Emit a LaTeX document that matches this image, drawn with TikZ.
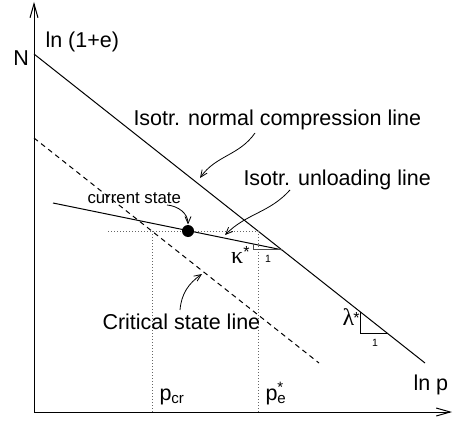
\documentclass[tikz,border=0pt]{standalone}
\usepackage{fontspec}
\setmainfont{Liberation Sans}
\newfontfamily\greekfont{Liberation Serif}
\usetikzlibrary{arrows.meta}

\newcommand{\starmark}[1]{\raisebox{#1}{\fontsize{16}{16}\selectfont *}}

\tikzset{
  lbl/.style={font=\fontsize{21.5}{25}\selectfont, inner sep=0pt},
  greeklbl/.style={font=\fontsize{24}{28}\selectfont, inner sep=0pt},
  smalllbl/.style={font=\fontsize{16.8}{20}\selectfont, inner sep=0pt},
  tinylbl/.style={font=\fontsize{10.5}{12}\selectfont, inner sep=0pt},
  axis/.style={-{Straight Barb[length=14pt,width=8pt]}, line width=1pt},
  pointer/.style={-{Straight Barb[length=7pt,width=6pt]}, line width=0.8pt},
  guide/.style={black!60, line width=1pt, dash pattern=on 1pt off 2pt},
  csl/.style={line width=1pt, dash pattern=on 5pt off 4pt},
  slope/.style={black!70, line width=0.9pt},
}

\begin{document}
\begin{tikzpicture}[x=1pt,y=1pt,line width=1pt]
\useasboundingbox (-34,-9) rectangle (420,412);

% axes
\coordinate (O) at (0,0);
\draw[axis] (O) -- (418,0);
\draw[axis] (O) -- (0,410);
\node[lbl,anchor=base west] (lnp) at (379,22) {ln p};
\node[lbl,anchor=base west] (lne) at (11,364) {ln (1+e)};
\node[lbl,anchor=base west] (Nlbl) at (-21,346) {N};

% lines
\coordinate (N) at (0,358);
\coordinate (nclEnd) at (391,49);
\coordinate (cslStart) at (0,274);
\coordinate (cslEnd) at (285,49);
\coordinate (unlStart) at (19,209);
\coordinate (unlEnd) at (247.8,162.2);
\draw (N) -- (nclEnd);
\draw[csl] (cslStart) -- (cslEnd);
\draw (unlStart) -- (unlEnd);

% current state and its projections
\coordinate (hStart) at (74,181);
\coordinate (pcr) at (118,181);
\coordinate (pe) at (224,181);
\draw[guide] (hStart) -- (pe);
\draw[guide] (pcr) -- (pcr |- O);
\draw[guide] (pe) -- (pe |- O);
\node[circle,fill,inner sep=0pt,minimum size=12pt] (state) at (154,181) {};
\node[lbl,anchor=base west] (pcrlbl) at (125,12) {p\textsubscript{cr}};
\node[lbl,anchor=base west] (pelbl) at (231,12) {p\rlap{\textsuperscript{*}}\textsubscript{e}};

% slopes
\draw[slope] (219,168) -- (219,162.2) -- (unlEnd);
\node[greeklbl,anchor=base east] (kappa) at (216,149) {{\greekfont κ}\starmark{6pt}};
\node[tinylbl] (kone) at (234,153) {1};
\draw[line width=0.9pt] (326,100.5) -- (326,79) -- (353.2,79);
\node[greeklbl,anchor=base east] (lambda) at (326,87) {{\greekfont λ}\kern-1pt\starmark{2pt}};
\node[tinylbl] (lone) at (341,69) {1};

% labels and pointers
\node[lbl,anchor=base west] (ncllbl) at (99,287) {Isotr. normal compression line};
\node[lbl,anchor=base west] (unllbl) at (209,227) {Isotr. unloading line};
\node[smalllbl,anchor=base west] (curlbl) at (53,209) {current state};
\node[lbl,anchor=base west] (csllbl) at (68,83) {Critical state line};
\coordinate (nclFrom) at (221,279);
\coordinate (nclTo) at (166,234);
\coordinate (unlFrom) at (256,222);
\coordinate (unlTo) at (191,177);
\coordinate (curFrom) at (133,207);
\coordinate (cslFrom) at (146,102);
\coordinate (cslTo) at (168,138);
\draw[pointer] (nclFrom) to[out=235,in=55] (nclTo);
\draw[pointer] (unlFrom) to[out=228,in=45] (unlTo);
\draw[pointer] (curFrom) to[out=-5,in=90] (state.north);
\draw[pointer] (cslFrom) to[out=85,in=215] (cslTo);
\end{tikzpicture}
\end{document}
